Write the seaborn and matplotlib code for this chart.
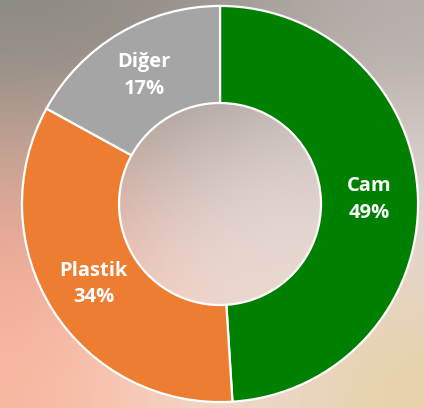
import matplotlib
matplotlib.use("Agg")
import matplotlib.pyplot as plt
import seaborn as sns
import numpy as np
from matplotlib.colors import to_rgb

sns.set_theme(style="white")
plt.rcParams['font.family'] = ['Open Sans', 'DejaVu Sans']

# Data
categories = ["Cam", "Plastik", "Diğer"]
shares = [49, 34, 17]
colors = ["#008000", "#ED7D31", "#A5A5A5"]

# blurred photo behind the chart, approximated by a soft colour grid
bg_grid = [
    ["#8e8c85", "#958e88", "#a8a09b", "#b6aeaa"],
    ["#c8a494", "#c4b6b0", "#d8ccc8", "#d9cecb"],
    ["#f1a896", "#ebd2ca", "#ebdcd8", "#e4d6d0"],
    ["#f8b8a2", "#f9cfbc", "#ead9cf", "#e8d2a8"],
]
bg = np.array([[to_rgb(c) for c in row] for row in bg_grid])

fig = plt.figure(figsize=(4.24, 4.08), dpi=100)
bg_ax = fig.add_axes([0, 0, 1, 1])
bg_ax.imshow(bg, aspect="auto", interpolation="bicubic", extent=[0, 1, 0, 1])
bg_ax.set_axis_off()

ax = fig.add_axes([0, 0, 1, 1])
ax.patch.set_alpha(0)
wedges, _ = ax.pie(shares, colors=colors, startangle=90, counterclock=False,
                   radius=1.0,
                   wedgeprops=dict(width=0.49, edgecolor="white", linewidth=1.6))

# labels in the middle of each ring segment
for w, name, val in zip(wedges, categories, shares):
    ang = np.deg2rad((w.theta1 + w.theta2) / 2)
    r = 0.755
    ax.text(r * np.cos(ang), r * np.sin(ang), f"{name}\n{val}%",
            ha="center", va="center", color="white", fontsize=14.5,
            fontweight="bold", linespacing=1.45)

ax.set_aspect("auto")
ax.set_xlim(-1.111, 1.030)
ax.set_ylim(-1.03, 1.03)
ax.set_axis_off()

fig.savefig("out.png", dpi=100)
